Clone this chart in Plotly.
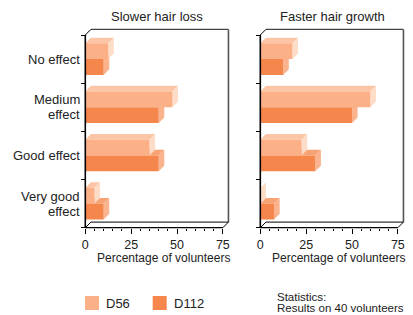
import plotly.graph_objects as go

# ---------------- data ----------------
categories = ["No effect", "Medium effect", "Good effect", "Very good effect"]
label_lines = [["No effect"], ["Medium", "effect"], ["Good effect"], ["Very good", "effect"]]
panel_titles = ["Slower hair loss", "Faster hair growth"]
series_names = ["D56", "D112"]
slower_d56 = [12.5, 47.5, 35, 5]
slower_d112 = [10, 40, 40, 10]
faster_d56 = [17.5, 60, 22.5, 0]
faster_d112 = [12.5, 50, 30, 7.5]
x_axis_title = "Percentage of volunteers"
stats_lines = ["Statistics:", "Results on 40 volunteers"]

# ---------------- layout constants ----------------
W, H = 413, 315
K = 1.834            # px per x unit
DEPTH = 5.6          # 3D depth in px
FRONT_TOP, FRONT_BOTTOM = 35.0, 227.7
CH = (FRONT_BOTTOM - FRONT_TOP) / len(categories)
DX = DEPTH / K
DY = DEPTH / CH
PAD = 2.0
BAR_H = 15.8 / CH
XMAX = 75
FONT = "Liberation Sans, Arial, sans-serif"
TXT = "#222222"
LABEL_SIZE = 13
LINE_GAP = 14.8 / CH   # spacing of two-line category labels, in category units

colors = {
    "D56": {"front": "#FBB088", "top": "#FCC6A6", "side": "#FDDCC8"},
    "D112": {"front": "#F5864C", "top": "#F8A374", "side": "#FAB38C"},
}

panels = [
    {"x0": 85.3, "title": panel_titles[0], "D56": slower_d56, "D112": slower_d112},
    {"x0": 260.3, "title": panel_titles[1], "D56": faster_d56, "D112": faster_d112},
]

fig = go.Figure()
shapes = []
annotations = []


def faces(v, a, b):
    """a = top (smaller y), b = bottom."""
    front = [(0, a), (v, a), (v, b), (0, b), (0, a)]
    top = [(0, a), (v, a), (v + DX, a - DY), (DX, a - DY), (0, a)]
    side = [(v, a), (v, b), (v + DX, b - DY), (v + DX, a - DY), (v, a)]
    return {"front": front, "top": top, "side": side}


for pi, p in enumerate(panels):
    xa = "x" if pi == 0 else "x2"
    ya = "y" if pi == 0 else "y2"
    for sname in ["D112", "D56"]:
        vals = p[sname]
        for face in ["top", "side", "front"]:
            xs, ys = [], []
            for ci, v in enumerate(vals):
                if sname == "D56":
                    a, b = ci - BAR_H, ci
                else:
                    a, b = ci, ci + BAR_H
                pts = faces(v, a, b)[face]
                xs += [q[0] for q in pts] + [None]
                ys += [q[1] for q in pts] + [None]
            fig.add_trace(go.Scatter(
                x=xs, y=ys, xaxis=xa, yaxis=ya, mode="lines", fill="toself",
                fillcolor=colors[sname][face], line=dict(width=0, color=colors[sname][face]),
                hoverinfo="skip", showlegend=False))

    n = len(categories)
    ytop, ybot = -0.5, n - 0.5

    def L(x0, y0, x1, y1, color="#000000", width=1.2):
        shapes.append(dict(type="line", xref=xa, yref=ya, x0=x0, y0=y0, x1=x1, y1=y1,
                           line=dict(color=color, width=width), layer="above"))
    # back wall
    L(DX, ytop - DY, XMAX + DX, ytop - DY, "#444444", 1.2)
    L(XMAX + DX, ytop - DY, XMAX + DX, ybot - DY, "#555555", 1.6)
    L(DX, ybot - DY, XMAX + DX, ybot - DY, "#000000", 1.0)
    # diagonals
    L(0, ytop, DX, ytop - DY, "#000000", 1.0)
    L(0, ybot, DX, ybot - DY, "#000000", 1.0)
    L(XMAX, ybot, XMAX + DX, ybot - DY, "#000000", 1.0)
    # front axes
    L(0, ybot, XMAX, ybot, "#000000", 1.3)
    L(0, ytop, 0, ybot, "#000000", 1.6)

    x0px = p["x0"]
    xdom = [(x0px - PAD) / W, (x0px + (XMAX + DX) * K + PAD) / W]
    ydom = [1 - (FRONT_BOTTOM + PAD) / H, 1 - (FRONT_TOP - DEPTH - PAD) / H]
    xaxis = dict(
        domain=xdom, range=[-PAD / K, XMAX + DX + PAD / K], anchor="free",
        position=1 - FRONT_BOTTOM / H, showline=False, showgrid=False, zeroline=False,
        tickmode="linear", tick0=0, dtick=25, ticks="outside", ticklen=5, tickwidth=1,
        tickcolor="#000000", tickfont=dict(family=FONT, size=12.5, color=TXT),
        minor=dict(tickmode="linear", tick0=0, dtick=5, ticks="outside", ticklen=2.5,
                   tickwidth=1, tickcolor="#000000", showgrid=False),
        fixedrange=True,
    )
    yaxis = dict(
        domain=ydom, range=[ybot + PAD / CH, ytop - DY - PAD / CH], anchor="free",
        position=x0px / W, showline=False, showgrid=False, zeroline=False,
        tickmode="array", tickvals=list(range(n)), ticktext=[""] * n, ticks="",
        minor=dict(tickmode="linear", tick0=-0.5, dtick=1, ticks="outside", ticklen=4,
                   tickwidth=1, tickcolor="#000000", showgrid=False),
        fixedrange=True,
    )
    if pi == 0:
        fig.update_layout(xaxis=xaxis, yaxis=yaxis)
        for ci, lines in enumerate(label_lines):
            m = len(lines)
            for li, t in enumerate(lines):
                yy = ci + (li - (m - 1) / 2) * LINE_GAP
                annotations.append(dict(text=t, xref="paper", yref=ya, x=(x0px - 3.2) / W,
                                        y=yy, showarrow=False, xanchor="right",
                                        yanchor="middle",
                                        font=dict(family=FONT, size=LABEL_SIZE, color=TXT)))
    else:
        fig.update_layout(xaxis2=xaxis, yaxis2=yaxis)

    cx = (x0px + (XMAX * K) / 2 + 3) / W
    annotations.append(dict(text=p["title"], xref="paper", yref="paper", x=cx,
                            y=1 - 16 / H, showarrow=False, xanchor="center", yanchor="middle",
                            font=dict(family=FONT, size=13, color=TXT)))
    annotations.append(dict(text=x_axis_title, xref="paper", yref="paper",
                            x=(x0px + 78) / W, y=1 - 257.5 / H, showarrow=False,
                            xanchor="center", yanchor="middle",
                            font=dict(family=FONT, size=12, color=TXT)))

# legend (drawn manually)
legend_x = [85, 152.7]
for sname, lx in zip(series_names, legend_x):
    shapes.append(dict(type="rect", xref="paper", yref="paper",
                       x0=lx / W, x1=(lx + 14) / W, y0=1 - 310 / H, y1=1 - 296 / H,
                       fillcolor=colors[sname]["front"], line=dict(width=0)))
    annotations.append(dict(text=sname, xref="paper", yref="paper", x=(lx + 19) / W,
                            y=1 - 303 / H, showarrow=False, xanchor="left", yanchor="middle",
                            font=dict(family=FONT, size=13, color=TXT)))

for i, line in enumerate(stats_lines):
    annotations.append(dict(text=line, xref="paper", yref="paper", x=275 / W,
                            y=1 - (297.3 + 11 * i) / H, showarrow=False, xanchor="left",
                            yanchor="middle", font=dict(family=FONT, size=11.5, color=TXT)))

fig.update_layout(
    width=W, height=H, margin=dict(l=0, r=0, t=0, b=0),
    paper_bgcolor="white", plot_bgcolor="rgba(0,0,0,0)",
    showlegend=False, shapes=shapes, annotations=annotations,
)

fig.write_html("out.html", config={"displayModeBar": False},
               post_script="document.body.style.margin='0';document.body.style.overflow='hidden';")
